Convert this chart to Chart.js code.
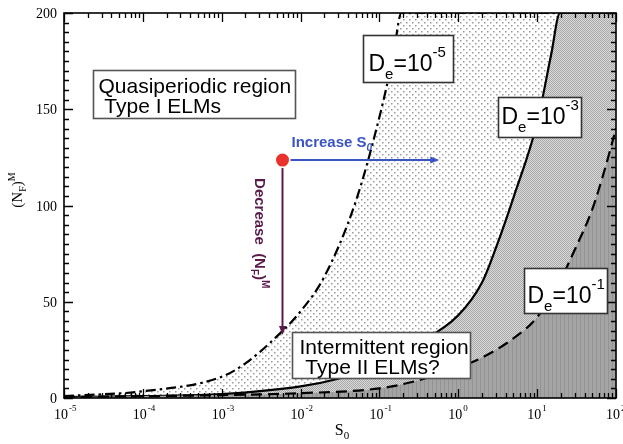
<!DOCTYPE html>
<html>
<head>
<meta charset="utf-8">
<script src="https://cdn.jsdelivr.net/npm/chart.js@4.4.0/dist/chart.umd.min.js"></script>
<style>
  html, body { margin: 0; padding: 0; background: #fff; }
  #wrap { width: 623px; height: 444px; }
</style>
</head>
<body>
<div id="wrap"><canvas id="elmChart" width="623" height="444"></canvas></div>
<script>
"use strict";

// S0 values (log axis) and (N_F)^M for each D_e curve
const sDe5 = [1e-5, 1e-4, 1e-3, 2e-3, 5e-3, 1e-2, 2e-2, 5e-2, 0.1, 0.15, 0.19, 100];
const nDe5 = [1, 3.5, 11, 18, 32, 45, 63, 102, 146, 178, 200, 200];

const sDe3 = [1e-5, 1e-4, 1e-3, 1e-2, 3e-2, 0.1, 0.3, 1, 2, 3, 5, 10, 15, 19.5, 100];
const nDe3 = [0.5, 1, 2, 6, 10, 17, 28, 43, 60, 78, 104, 143, 178, 200, 200];

const sDe1 = [1e-5, 1e-3, 1e-2, 0.1, 0.3, 1, 2, 5, 10, 20, 30, 50, 70, 100];
const nDe1 = [0.5, 1.5, 2.5, 5, 9, 16, 21, 31, 42, 62, 77, 98, 117, 140];

const xTicks = [1e-5, 1e-4, 1e-3, 1e-2, 1e-1, 1, 10, 100];
const xTickExp = ["-5", "-4", "-3", "-2", "-1", "0", "1", "2"];
const yTicks = [0, 50, 100, 150, 200];

const serif = "'Liberation Serif', 'DejaVu Serif', serif";
const sans = "'Liberation Sans', Arial, sans-serif";

function makePattern(size, bg, draw) {
  const c = document.createElement("canvas");
  c.width = size;
  c.height = size;
  const g = c.getContext("2d");
  g.fillStyle = bg;
  g.fillRect(0, 0, size, size);
  draw(g);
  return g.createPattern(c, "repeat");
}

const lightDots = makePattern(6, "#ffffff", (g) => {
  g.fillStyle = "#9a9a9a";
  g.fillRect(1, 1, 1.5, 1.5);
  g.fillRect(4, 4, 1.5, 1.5);
});
const mediumDots = makePattern(2, "#dadada", (g) => {
  g.fillStyle = "#a8a8a8";
  g.fillRect(0, 0, 1, 1);
  g.fillRect(1, 1, 1, 1);
});
const darkFill = makePattern(4, "#a4a4a4", (g) => {
  g.fillStyle = "#949494";
  g.fillRect(0, 0, 1, 4);
});

function pts(xs, ys) {
  return xs.map((v, i) => ({ x: v, y: ys[i] }));
}

// draws a row of text pieces: [text, size, dy, weight]
function richText(ctx, parts, x, y, family, align) {
  let total = 0;
  const widths = parts.map((p) => {
    ctx.font = `${p[3] || "normal"} ${p[1]}px ${family}`;
    const w = ctx.measureText(p[0]).width;
    total += w;
    return w;
  });
  let cx = x;
  if (align === "center") cx = x - total / 2;
  if (align === "right") cx = x - total;
  ctx.textAlign = "left";
  parts.forEach((p, i) => {
    ctx.font = `${p[3] || "normal"} ${p[1]}px ${family}`;
    ctx.fillText(p[0], cx, y + (p[2] || 0));
    cx += widths[i];
  });
  return total;
}

// annotation boxes, anchored at data coordinates (top-left corner)
const boxes = [
  { s: 2.33e-5, n: 170.4, w: 202, h: 48, border: "#555",
    lines: [[[["Quasiperiodic region", 21]], 5, 22], [[[" Type I ELMs", 21]], 5, 42]] },
  { s: 7.7e-3, n: 34.3, w: 178, h: 46, border: "#555",
    lines: [[[["Intermittent region", 21]], 7, 21], [[[" Type II ELMs?", 21]], 7, 41]] },
  { s: 0.061, n: 188.6, w: 90, h: 47, border: "#333",
    lines: [[[["D", 23], ["e", 15, 8], ["=10", 23], ["-5", 15, -14]], 5, 35]] },
  { s: 3.2, n: 156.4, w: 83, h: 40, border: "#333",
    lines: [[[["D", 23], ["e", 15, 8], ["=10", 23], ["-3", 15, -14]], 3, 26]] },
  { s: 6.84, n: 67.5, w: 83, h: 45, border: "#333",
    lines: [[[["D", 23], ["e", 15, 8], ["=10", 23], ["-1", 15, -14]], 3, 34]] },
];

const startPoint = { s: 5.9e-3, n: 123.6 };
const increaseTo = 0.574;
const decreaseTo = 32.7;

function arrowHead(ctx, x, y, dir) {
  ctx.beginPath();
  if (dir === "right") {
    ctx.moveTo(x, y);
    ctx.lineTo(x - 9, y - 3.5);
    ctx.lineTo(x - 9, y + 3.5);
  } else {
    ctx.moveTo(x, y);
    ctx.lineTo(x - 3.5, y - 9);
    ctx.lineTo(x + 3.5, y - 9);
  }
  ctx.closePath();
  ctx.fill();
}

const decorPlugin = {
  id: "decor",
  afterDatasetsDraw(chart) {
    const { ctx, chartArea: a, scales } = chart;
    const x = scales.x;
    const y = scales.y;
    ctx.save();

    // inward ticks on all four sides
    ctx.strokeStyle = "#000";
    ctx.lineWidth = 1.3;
    ctx.beginPath();
    for (let d = -5; d <= 2; d++) {
      for (let m = 1; m <= 9; m++) {
        const v = m * Math.pow(10, d);
        if (v > 100 + 1e-9) break;
        const px = Math.round(x.getPixelForValue(v)) + 0.5;
        const len = m === 1 ? 9 : 5;
        ctx.moveTo(px, a.bottom);
        ctx.lineTo(px, a.bottom - len);
        ctx.moveTo(px, a.top);
        ctx.lineTo(px, a.top + len);
      }
    }
    for (let v = 0; v <= 200; v += 5) {
      const py = Math.round(y.getPixelForValue(v)) + 0.5;
      const len = v % 50 === 0 ? 9 : 5;
      ctx.moveTo(a.left, py);
      ctx.lineTo(a.left + len, py);
      ctx.moveTo(a.right, py);
      ctx.lineTo(a.right - len, py);
    }
    ctx.stroke();

    // frame
    ctx.lineWidth = 1.6;
    ctx.strokeRect(a.left, a.top, a.right - a.left, a.bottom - a.top);

    // tick labels
    ctx.fillStyle = "#000";
    ctx.textBaseline = "alphabetic";
    xTicks.forEach((v, i) => {
      const px = x.getPixelForValue(v);
      ctx.font = `14px ${serif}`;
      const w10 = ctx.measureText("10").width;
      ctx.textAlign = "left";
      ctx.fillText("10", px - w10 / 2 - 3, a.bottom + 21);
      ctx.font = `9px ${serif}`;
      ctx.fillText(xTickExp[i], px + w10 / 2 - 2, a.bottom + 13);
    });
    ctx.font = `14px ${serif}`;
    ctx.textAlign = "right";
    yTicks.forEach((v) => {
      ctx.fillText(String(v), a.left - 7, y.getPixelForValue(v) + 5);
    });

    // axis titles
    richText(ctx, [["S", 16], ["0", 11, 4]], (a.left + a.right) / 2 + 2, a.bottom + 37, serif, "center");
    ctx.save();
    ctx.translate(22, 190);
    ctx.rotate(-Math.PI / 2);
    richText(ctx, [["(N", 15], ["F", 10, 4], [")", 15], ["M", 10, -7]], 0, 0, serif, "center");
    ctx.restore();

    // annotation boxes
    boxes.forEach((b) => {
      const bx = Math.round(x.getPixelForValue(b.s)) + 0.5;
      const by = Math.round(y.getPixelForValue(b.n)) + 0.5;
      ctx.fillStyle = "#fff";
      ctx.fillRect(bx, by, b.w, b.h);
      ctx.strokeStyle = b.border;
      ctx.lineWidth = 1.6;
      ctx.strokeRect(bx, by, b.w, b.h);
      ctx.fillStyle = "#000";
      b.lines.forEach((ln) => {
        richText(ctx, ln[0], bx + ln[1], by + ln[2], sans, "left");
      });
    });

    // arrows from the start point
    const sx = x.getPixelForValue(startPoint.s);
    const sy = y.getPixelForValue(startPoint.n);

    ctx.strokeStyle = "#3a54c4";
    ctx.fillStyle = "#3a54c4";
    ctx.lineWidth = 2;
    const ex = x.getPixelForValue(increaseTo);
    ctx.beginPath();
    ctx.moveTo(sx + 8, sy);
    ctx.lineTo(ex - 6, sy);
    ctx.stroke();
    arrowHead(ctx, ex, sy, "right");
    richText(ctx, [["Increase S", 15, 0, "bold"], ["0", 10, 4, "bold italic"]], sx + 9, sy - 13, sans, "left");

    ctx.strokeStyle = "#5a1a4c";
    ctx.fillStyle = "#5a1a4c";
    const ey = y.getPixelForValue(decreaseTo);
    ctx.beginPath();
    ctx.moveTo(sx, sy + 8);
    ctx.lineTo(sx, ey - 6);
    ctx.stroke();
    arrowHead(ctx, sx, ey, "down");
    ctx.save();
    ctx.translate(sx - 28, sy + 18);
    ctx.rotate(Math.PI / 2);
    richText(ctx, [["Decrease  (N", 15, 0, "bold"], ["F", 10, 4, "bold"], [")", 15, 0, "bold"], ["M", 10, -7, "bold"]], 0, 0, sans, "left");
    ctx.restore();

    ctx.fillStyle = "#e8322b";
    ctx.beginPath();
    ctx.arc(sx, sy, 6.5, 0, Math.PI * 2);
    ctx.fill();

    ctx.restore();
  },
};

new Chart(document.getElementById("elmChart"), {
  type: "line",
  data: {
    datasets: [
      {
        label: "De=1e-1",
        data: pts(sDe1, nDe1),
        borderColor: "#000",
        borderWidth: 2.2,
        borderDash: [11, 6],
        backgroundColor: darkFill,
        fill: "origin",
        pointRadius: 0,
        cubicInterpolationMode: "monotone",
      },
      {
        label: "De=1e-3",
        data: pts(sDe3, nDe3),
        borderColor: "#000",
        borderWidth: 2.2,
        backgroundColor: mediumDots,
        fill: "origin",
        pointRadius: 0,
        cubicInterpolationMode: "monotone",
      },
      {
        label: "De=1e-5",
        data: pts(sDe5, nDe5),
        borderColor: "#000",
        borderWidth: 2.2,
        borderDash: [10, 4, 2.5, 4],
        backgroundColor: lightDots,
        fill: "origin",
        pointRadius: 0,
        cubicInterpolationMode: "monotone",
      },
    ],
  },
  options: {
    responsive: false,
    animation: false,
    devicePixelRatio: 1,
    layout: { padding: { left: 64, right: 7, top: 13, bottom: 46 } },
    plugins: { legend: { display: false }, tooltip: { enabled: false } },
    scales: {
      x: { type: "logarithmic", min: 1e-5, max: 100, display: false },
      y: { type: "linear", min: 0, max: 200, display: false },
    },
  },
  plugins: [decorPlugin],
});
</script>
</body>
</html>
